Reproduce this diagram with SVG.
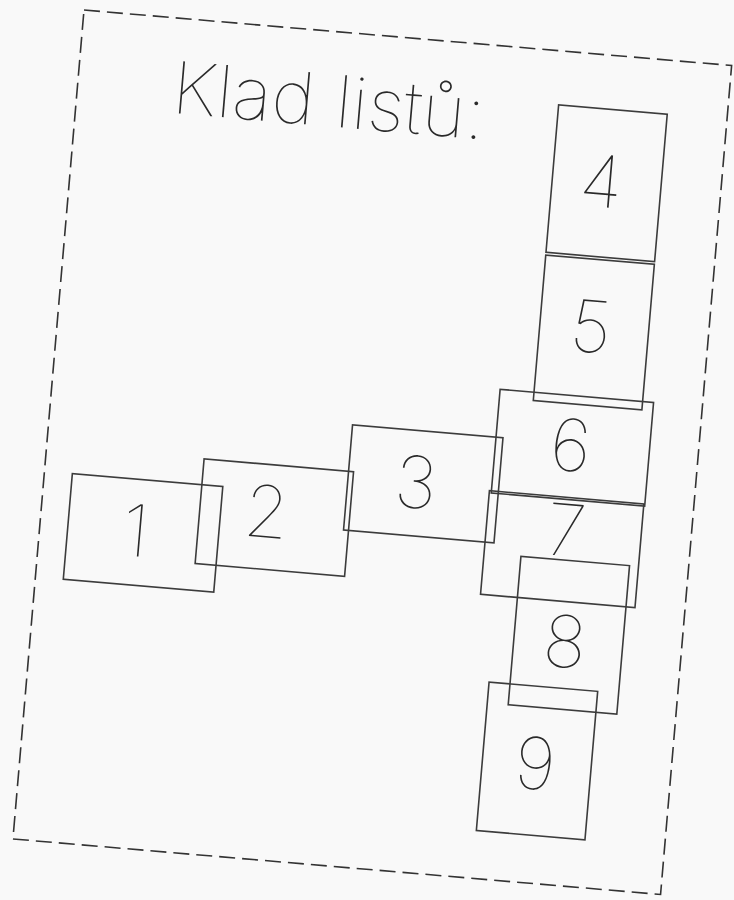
<svg xmlns="http://www.w3.org/2000/svg" width="734" height="900" viewBox="0 0 734 900">
<style>
.bg{fill:#f9f9f9}
.page{fill:none;stroke:#333;stroke-width:1.6;stroke-dasharray:16 7}
.box{fill:none;stroke:#3c3c3c;stroke-width:1.6}
.num{font-family:Inter,Roboto,"DejaVu Sans",sans-serif;font-weight:100;font-size:72px;fill:#2a2a2a;text-anchor:middle}
.title{font-family:Inter,Roboto,"DejaVu Sans",sans-serif;font-weight:100;font-size:72px;fill:#2a2a2a}
</style>
<rect class="bg" x="0" y="0" width="734" height="900"/>
<g transform="translate(84,10) rotate(4.9)">
<rect id="page" class="page" x="0" y="0" width="650" height="832"/>
<text id="title" class="title" x="95" y="95" textLength="314" lengthAdjust="spacingAndGlyphs">Klad listů:</text>
<g id="sheet1"><rect class="box" x="28" y="463" width="151" height="106"/><text class="num" x="96" y="540">1</text></g>
<g id="sheet2"><rect class="box" x="158" y="437" width="150" height="105"/><text class="num" x="225" y="510">2</text></g>
<g id="sheet3"><rect class="box" x="303" y="390.5" width="151" height="105.5"/><text class="num" x="371" y="468">3</text></g>
<g id="sheet4"><rect class="box" x="481" y="54" width="109" height="148"/><text class="num" x="530" y="152">4</text></g>
<g id="sheet5"><rect class="box" x="481" y="204.7" width="109" height="146"/><text class="num" x="532" y="298">5</text></g>
<g id="sheet6"><rect class="box" x="447" y="342.4" width="154" height="104"/><text class="num" x="522" y="418">6</text></g>
<g id="sheet7"><rect class="box" x="445" y="444.3" width="155" height="104"/><text class="num" x="525" y="503">7</text></g>
<g id="sheet8"><rect class="box" x="482" y="507" width="109" height="149"/><text class="num" x="533" y="614">8</text></g>
<g id="sheet9"><rect class="box" x="461" y="635" width="109" height="149"/><text class="num" x="514" y="738">9</text></g>
<g id="connectors"/>
</g>
</svg>
